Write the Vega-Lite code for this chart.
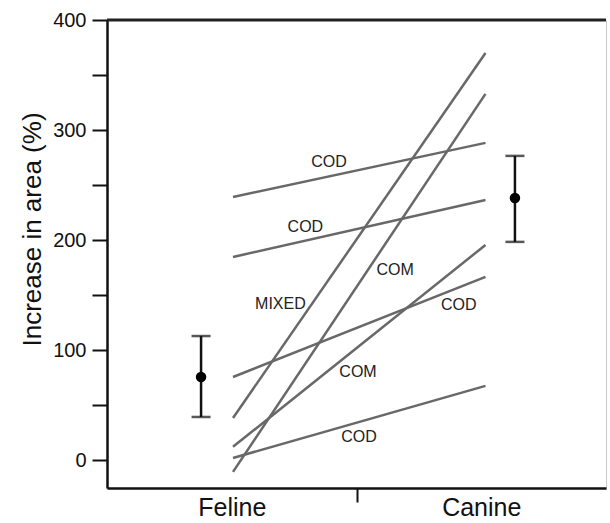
{
  "$schema": "https://vega.github.io/schema/vega-lite/v6.json",
  "autosize": {"type": "none"},
  "width": 499,
  "height": 468,
  "padding": {"left": 107, "top": 20, "right": 4, "bottom": 35},
  "background": "white",
  "config": {
    "view": {"stroke": "#c8c8c8", "strokeWidth": 1},
    "font": "Liberation Sans",
    "axis": {"grid": false, "domainColor": "#111", "domainWidth": 2.5, "tickColor": "#111", "tickWidth": 2, "labelColor": "#111", "titleColor": "#111", "labelFont": "Liberation Sans", "titleFont": "Liberation Sans", "titleFontWeight": "normal"}
  },
  "datasets": {
    "lines": [
      {"id": "a", "species": "Feline", "pos": 0.505, "value": 239.3},
      {"id": "a", "species": "Canine", "pos": 1.517, "value": 288.4},
      {"id": "b", "species": "Feline", "pos": 0.505, "value": 184.8},
      {"id": "b", "species": "Canine", "pos": 1.517, "value": 236.6},
      {"id": "c", "species": "Feline", "pos": 0.505, "value": 75.8},
      {"id": "c", "species": "Canine", "pos": 1.517, "value": 166.7},
      {"id": "d", "species": "Feline", "pos": 0.505, "value": 38.6},
      {"id": "d", "species": "Canine", "pos": 1.517, "value": 370},
      {"id": "e", "species": "Feline", "pos": 0.505, "value": -10.4},
      {"id": "e", "species": "Canine", "pos": 1.517, "value": 332.9},
      {"id": "f", "species": "Feline", "pos": 0.505, "value": 12.4},
      {"id": "f", "species": "Canine", "pos": 1.517, "value": 195.7},
      {"id": "g", "species": "Feline", "pos": 0.505, "value": 2.3},
      {"id": "g", "species": "Canine", "pos": 1.517, "value": 67.7}
    ],
    "labels": [
      {"text": "COD", "pos": 0.89, "value": 271},
      {"text": "COD", "pos": 0.795, "value": 212},
      {"text": "COM", "pos": 1.155, "value": 173},
      {"text": "MIXED", "pos": 0.695, "value": 142},
      {"text": "COD", "pos": 1.41, "value": 141},
      {"text": "COM", "pos": 1.006, "value": 80},
      {"text": "COD", "pos": 1.01, "value": 21}
    ],
    "stats": [
      {"species": "Feline", "pos": 0.377, "mean": 75.8, "lo": 39.5, "hi": 113},
      {"species": "Canine", "pos": 1.635, "mean": 238.4, "lo": 198.5, "hi": 276.6}
    ]
  },
  "layer": [
    {
      "data": {"name": "lines"},
      "mark": {"type": "line", "color": "#686868", "strokeWidth": 2.5},
      "encoding": {
        "x": {"field": "pos", "type": "quantitative", "scale": {"domain": [0, 2], "nice": false, "zero": false},
          "axis": {"title": null, "values": [0.5, 1, 1.5], "labelExpr": "datum.value == 0.5 ? 'Feline' : datum.value == 1.5 ? 'Canine' : ''", "labelFontSize": 25, "tickSize": 14, "labelPadding": -7, "tickOpacity": {"condition": {"test": "datum.value == 1", "value": 1}, "value": 0}, "labelFlush": false, "labelOverlap": false}},
        "y": {"field": "value", "type": "quantitative", "scale": {"domain": [-25, 400], "nice": false, "zero": false},
          "axis": {"title": "Increase in area (%)", "values": [0, 50, 100, 150, 200, 250, 300, 350, 400], "labelExpr": "datum.value % 100 == 0 ? datum.label : ''", "labelFontSize": 20, "tickSize": 15, "labelPadding": 6, "titleFontSize": 26, "titlePadding": 7, "titleY": 209, "labelOverlap": false}},
        "detail": {"field": "id"}
      }
    },
    {
      "data": {"name": "labels"},
      "mark": {"type": "text", "fontSize": 16, "color": "#222", "font": "Liberation Sans"},
      "encoding": {
        "x": {"field": "pos", "type": "quantitative"},
        "y": {"field": "value", "type": "quantitative"},
        "text": {"field": "text"}
      }
    },
    {
      "data": {"name": "stats"},
      "mark": {"type": "rule", "color": "#111", "strokeWidth": 2.5},
      "encoding": {
        "x": {"field": "pos", "type": "quantitative"},
        "y": {"field": "lo", "type": "quantitative"},
        "y2": {"field": "hi"}
      }
    },
    {
      "data": {"name": "stats"},
      "mark": {"type": "tick", "orient": "horizontal", "color": "#111", "size": 19, "thickness": 2.5},
      "encoding": {
        "x": {"field": "pos", "type": "quantitative"},
        "y": {"field": "lo", "type": "quantitative"}
      }
    },
    {
      "data": {"name": "stats"},
      "mark": {"type": "tick", "orient": "horizontal", "color": "#111", "size": 19, "thickness": 2.5},
      "encoding": {
        "x": {"field": "pos", "type": "quantitative"},
        "y": {"field": "hi", "type": "quantitative"}
      }
    },
    {
      "data": {"name": "stats"},
      "mark": {"type": "point", "filled": true, "color": "#000", "size": 110, "opacity": 1},
      "encoding": {
        "x": {"field": "pos", "type": "quantitative"},
        "y": {"field": "mean", "type": "quantitative"}
      }
    },
    {
      "data": {"values": [{"top": 400}]},
      "mark": {"type": "rule", "color": "#222", "strokeWidth": 3},
      "encoding": {
        "y": {"field": "top", "type": "quantitative"}
      }
    }
  ]
}
